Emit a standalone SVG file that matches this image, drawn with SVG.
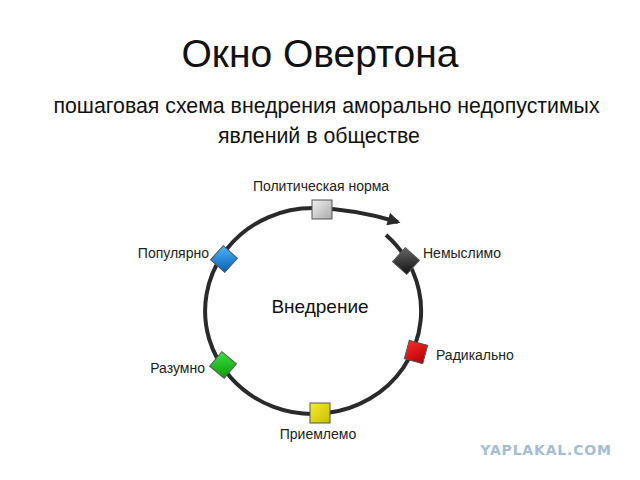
<svg xmlns="http://www.w3.org/2000/svg" width="640" height="480" viewBox="0 0 640 480">
<defs>
<style>
.t{font-family:"Liberation Sans",Arial,sans-serif;fill:#111}
.lbl{font-family:"Liberation Sans",Arial,sans-serif;font-size:14px;fill:#222}
.box{stroke:#555;stroke-width:1}
</style>
<marker id="ah" viewBox="0 0 10 10" refX="8" refY="5" markerWidth="3.6" markerHeight="3.2" orient="auto" markerUnits="strokeWidth">
<path d="M0,0 L10,5 L0,10 z" fill="#2a2a2a"/>
</marker>
<linearGradient id="gGray" x1="0" y1="0" x2="1" y2="1"><stop offset="0" stop-color="#f2f2f2"/><stop offset="1" stop-color="#a8a8a8"/></linearGradient>
<linearGradient id="gBlack" x1="0" y1="0" x2="1" y2="1"><stop offset="0" stop-color="#666"/><stop offset="1" stop-color="#111"/></linearGradient>
<linearGradient id="gRed" x1="0" y1="0" x2="1" y2="1"><stop offset="0" stop-color="#ff2a2a"/><stop offset="1" stop-color="#b00000"/></linearGradient>
<linearGradient id="gYellow" x1="0" y1="0" x2="1" y2="1"><stop offset="0" stop-color="#f4ee30"/><stop offset="1" stop-color="#c8be00"/></linearGradient>
<linearGradient id="gGreen" x1="0" y1="0" x2="1" y2="1"><stop offset="0" stop-color="#3fe03f"/><stop offset="1" stop-color="#0a9a0a"/></linearGradient>
<linearGradient id="gBlue" x1="0" y1="0" x2="1" y2="1"><stop offset="0" stop-color="#4ab4ff"/><stop offset="1" stop-color="#0a5fb0"/></linearGradient>
</defs>
<rect width="640" height="480" fill="#fff"/>
<text class="t" x="320" y="67" font-size="39" text-anchor="middle">Окно Овертона</text>
<text class="t" x="326.5" y="113" font-size="21.3" text-anchor="middle">пошаговая схема внедрения аморально недопустимых</text>
<text class="t" x="319" y="143" font-size="21.3" text-anchor="middle">явлений в обществе</text>

<g id="connectors">
<path d="M 386 235 A 108 103 0 1 1 314 208 Q 355 209 398 222" fill="none" stroke="#2a2a2a" stroke-width="4" marker-end="url(#ah)"/>
</g>

<g id="center"><text class="t" x="320" y="313" font-size="19" text-anchor="middle">Внедрение</text></g>

<g id="n-politicheskaya">
<rect class="box" x="312" y="200" width="20" height="19" fill="url(#gGray)"/>
<text class="lbl" x="321" y="191" text-anchor="middle">Политическая норма</text>
</g>
<g id="n-nemyslimo">
<rect class="box" x="-9.5" y="-9.5" width="19" height="19" fill="url(#gBlack)" transform="translate(406 261) rotate(42)"/>
<text class="lbl" x="423" y="258">Немыслимо</text>
</g>
<g id="n-radikalno">
<rect class="box" x="-9.5" y="-9.5" width="19" height="19" fill="url(#gRed)" transform="translate(416 352) rotate(15)"/>
<text class="lbl" x="436" y="360">Радикально</text>
</g>
<g id="n-priemlemo">
<rect class="box" x="310" y="403" width="20" height="20" fill="url(#gYellow)"/>
<text class="lbl" x="318" y="439" text-anchor="middle">Приемлемо</text>
</g>
<g id="n-razumno">
<rect class="box" x="-9.5" y="-9.5" width="19" height="19" fill="url(#gGreen)" transform="translate(223 365) rotate(40)"/>
<text class="lbl" x="205" y="373" text-anchor="end">Разумно</text>
</g>
<g id="n-populyarno">
<rect class="box" x="-9.5" y="-9.5" width="19" height="19" fill="url(#gBlue)" transform="translate(224 259) rotate(42)"/>
<text class="lbl" x="209" y="258" text-anchor="end">Популярно</text>
</g>

<text x="546" y="455" text-anchor="middle" font-family="'DejaVu Sans',sans-serif" font-weight="bold" font-size="14" fill="#a4bdd3" letter-spacing="0.8">YAPLAKAL.COM</text>
</svg>
